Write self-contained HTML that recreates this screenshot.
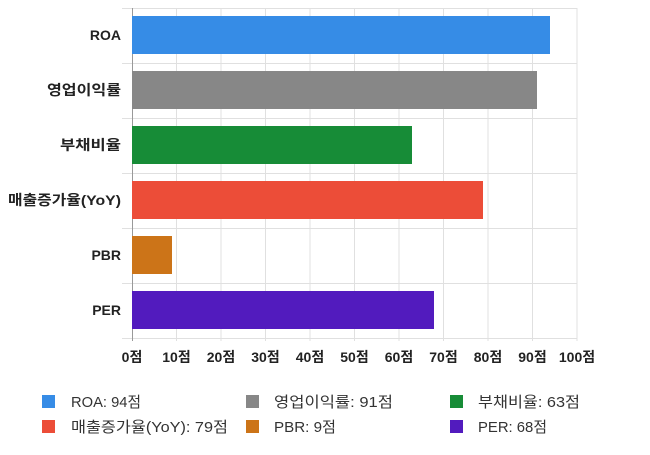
<!DOCTYPE html>
<html><head><meta charset="utf-8"><style>
body{margin:0;background:#fff;width:650px;height:450px;overflow:hidden;font-family:"Liberation Sans","Noto Sans CJK KR",sans-serif}
</style></head><body>
<svg width="650" height="450" xmlns="http://www.w3.org/2000/svg" style="font-family:'Liberation Sans','Noto Sans CJK KR',sans-serif">
<g stroke="#e0e0e0" stroke-width="1">
<line x1="176.5" y1="8" x2="176.5" y2="341"/><line x1="221" y1="8" x2="221" y2="341"/><line x1="265.5" y1="8" x2="265.5" y2="341"/><line x1="310" y1="8" x2="310" y2="341"/><line x1="354.5" y1="8" x2="354.5" y2="341"/><line x1="399" y1="8" x2="399" y2="341"/><line x1="443.5" y1="8" x2="443.5" y2="341"/><line x1="488" y1="8" x2="488" y2="341"/><line x1="532.5" y1="8" x2="532.5" y2="341"/><line x1="577" y1="8" x2="577" y2="341"/>
<line x1="122" y1="8.5" x2="577" y2="8.5"/><line x1="122" y1="63.5" x2="577" y2="63.5"/><line x1="122" y1="118.5" x2="577" y2="118.5"/><line x1="122" y1="173.5" x2="577" y2="173.5"/><line x1="122" y1="228.5" x2="577" y2="228.5"/><line x1="122" y1="283.5" x2="577" y2="283.5"/><line x1="122" y1="338.5" x2="577" y2="338.5"/>
</g>
<line x1="132.5" y1="8" x2="132.5" y2="341" stroke="#999"/>
<rect x="132" y="16" width="418" height="38" fill="#368ce6"/>
<rect x="132" y="71" width="405" height="38" fill="#878787"/>
<rect x="132" y="126" width="280" height="38" fill="#178c37"/>
<rect x="132" y="181" width="351" height="38" fill="#ec4d38"/>
<rect x="132" y="236" width="40" height="38" fill="#cc7418"/>
<rect x="132" y="291" width="302" height="38" fill="#521bbe"/>
<g font-size="14" font-weight="bold" fill="#222" text-anchor="end">
<text x="121" y="40">ROA</text>
<text x="121" y="95" textLength="74" lengthAdjust="spacingAndGlyphs">영업이익률</text>
<text x="121" y="150" textLength="61" lengthAdjust="spacingAndGlyphs">부채비율</text>
<text x="121" y="205" textLength="113" lengthAdjust="spacingAndGlyphs">매출증가율(YoY)</text>
<text x="121" y="260">PBR</text><text x="121" y="315">PER</text>
</g>
<g font-size="14" font-weight="bold" fill="#222" text-anchor="middle">
<text x="132" y="362">0점</text><text x="176.5" y="362">10점</text><text x="221" y="362">20점</text><text x="265.5" y="362">30점</text><text x="310" y="362">40점</text><text x="354.5" y="362">50점</text><text x="399" y="362">60점</text><text x="443.5" y="362">70점</text><text x="488" y="362">80점</text><text x="532.5" y="362">90점</text><text x="577" y="362">100점</text>
</g>
<g font-size="15" fill="#333">
<rect x="42" y="395" width="13" height="13" fill="#368ce6"/><text x="71" y="407" textLength="70" lengthAdjust="spacingAndGlyphs">ROA: 94점</text>
<rect x="246" y="395" width="13" height="13" fill="#878787"/><text x="274" y="407" textLength="119" lengthAdjust="spacingAndGlyphs">영업이익률: 91점</text>
<rect x="450" y="395" width="13" height="13" fill="#178c37"/><text x="478" y="407" textLength="102" lengthAdjust="spacingAndGlyphs">부채비율: 63점</text>
<rect x="42" y="420" width="13" height="13" fill="#ec4d38"/><text x="71" y="432" textLength="157" lengthAdjust="spacingAndGlyphs">매출증가율(YoY): 79점</text>
<rect x="246" y="420" width="13" height="13" fill="#cc7418"/><text x="274" y="432" textLength="62" lengthAdjust="spacingAndGlyphs">PBR: 9점</text>
<rect x="450" y="420" width="13" height="13" fill="#521bbe"/><text x="478" y="432" textLength="69" lengthAdjust="spacingAndGlyphs">PER: 68점</text>
</g>
</svg>
</body></html>
